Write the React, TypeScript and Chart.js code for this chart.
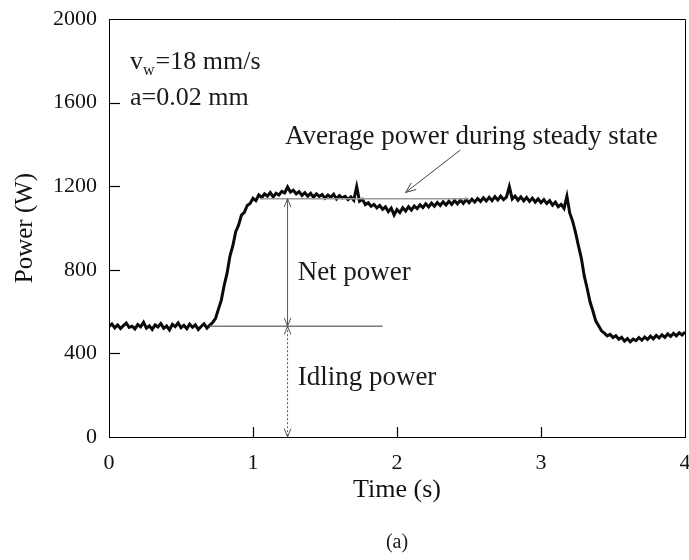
import React, { useEffect, useRef } from "react";
import { Chart, registerables } from "chart.js";

Chart.register(...registerables);

// Sample times (s)
const timeS = [
  0, 0.02, 0.04, 0.06, 0.08, 0.1, 0.12, 0.14, 0.16, 0.18,
  0.2, 0.22, 0.24, 0.26, 0.28, 0.3, 0.32, 0.34, 0.36, 0.38,
  0.4, 0.42, 0.44, 0.46, 0.48, 0.5, 0.52, 0.54, 0.56, 0.58,
  0.6, 0.62, 0.64, 0.66, 0.68, 0.7, 0.72, 0.74, 0.76, 0.78,
  0.8, 0.82, 0.84, 0.86, 0.88, 0.9, 0.92, 0.94, 0.96, 0.98,
  1.0, 1.02, 1.04, 1.06, 1.08, 1.1, 1.12, 1.14, 1.16, 1.18,
  1.2, 1.22, 1.24, 1.26, 1.28, 1.3, 1.32, 1.34, 1.36, 1.38,
  1.4, 1.42, 1.44, 1.46, 1.48, 1.5, 1.52, 1.54, 1.56, 1.58,
  1.6, 1.62, 1.64, 1.66, 1.68, 1.7, 1.72, 1.74, 1.76, 1.78,
  1.8, 1.82, 1.84, 1.86, 1.88, 1.9, 1.92, 1.94, 1.96, 1.98,
  2.0, 2.02, 2.04, 2.06, 2.08, 2.1, 2.12, 2.14, 2.16, 2.18,
  2.2, 2.22, 2.24, 2.26, 2.28, 2.3, 2.32, 2.34, 2.36, 2.38,
  2.4, 2.42, 2.44, 2.46, 2.48, 2.5, 2.52, 2.54, 2.56, 2.58,
  2.6, 2.62, 2.64, 2.66, 2.68, 2.7, 2.72, 2.74, 2.76, 2.78,
  2.8, 2.82, 2.84, 2.86, 2.88, 2.9, 2.92, 2.94, 2.96, 2.98,
  3.0, 3.02, 3.04, 3.06, 3.08, 3.1, 3.12, 3.14, 3.16, 3.18,
  3.2, 3.22, 3.24, 3.26, 3.28, 3.3, 3.32, 3.34, 3.36, 3.38,
  3.4, 3.42, 3.44, 3.46, 3.48, 3.5, 3.52, 3.54, 3.56, 3.58,
  3.6, 3.62, 3.64, 3.66, 3.68, 3.7, 3.72, 3.74, 3.76, 3.78,
  3.8, 3.82, 3.84, 3.86, 3.88, 3.9, 3.92, 3.94, 3.96, 3.98,
  4.0,
];

// Measured power (W)
const powerW = [
  528, 541, 522, 536, 519, 533, 545, 524, 530, 517,
  538, 527, 549, 521, 532, 515, 536, 526, 543, 520,
  531, 512, 539, 528, 546, 523, 534, 518, 540, 525,
  537, 514, 529, 542, 521, 535, 548, 568, 612, 655,
  726, 784, 866, 915, 982, 1014, 1062, 1075, 1108, 1117,
  1142, 1131, 1158, 1146, 1163, 1152, 1170, 1149, 1166, 1158,
  1175, 1168, 1196, 1172, 1181, 1163, 1174, 1156, 1169, 1152,
  1166, 1148, 1163, 1151, 1160, 1143, 1158, 1147, 1162, 1139,
  1155, 1144, 1151, 1136, 1149, 1133, 1198, 1128, 1137, 1112,
  1121, 1104, 1113, 1096, 1108, 1089, 1101, 1078, 1095, 1062,
  1088, 1074, 1097, 1081, 1102, 1086, 1105, 1093, 1111, 1098,
  1116, 1101, 1119, 1104, 1122, 1108, 1125, 1110, 1128, 1113,
  1131, 1115, 1133, 1118, 1136, 1121, 1138, 1124, 1141, 1127,
  1144, 1129, 1147, 1131, 1150, 1134, 1152, 1136, 1148, 1198,
  1139, 1153, 1133, 1149, 1130, 1146, 1127, 1143, 1124, 1139,
  1121, 1136, 1117, 1131, 1110, 1124, 1102, 1113, 1094, 1152,
  1071, 1032, 978, 915, 856, 772, 713, 648, 604, 556,
  532, 508, 497, 484, 491, 476, 485, 468, 477, 459,
  471, 455, 468, 461, 476, 463, 478, 467, 483, 470,
  486, 474, 489, 477, 493, 481, 496, 484, 499, 488,
  502,
];

const yTickValues = [400, 800, 1200, 1600];
const xTickValues = [1, 2, 3];

// Annotation values
const avgPower = 1140;
const avgSpan = [1.05, 2.5];
const idlePower = 530;
const idleSpan = [0.7, 1.9];
const markerTime = 1.24;
const avgArrowFrom = { t: 2.44, p: 1373 };
const avgArrowTo = { t: 2.06, p: 1170 };

const SERIF = "'Liberation Serif', 'Times New Roman', serif";

function arrowHead(ctx: CanvasRenderingContext2D, fx: number, fy: number, tx: number, ty: number, size: number) {
  const ang = Math.atan2(ty - fy, tx - fx);
  const spread = 0.38;
  ctx.beginPath();
  ctx.moveTo(tx - size * Math.cos(ang - spread), ty - size * Math.sin(ang - spread));
  ctx.lineTo(tx, ty);
  ctx.lineTo(tx - size * Math.cos(ang + spread), ty - size * Math.sin(ang + spread));
  ctx.stroke();
}

const annotationPlugin = {
  id: "annotations",
  afterDatasetsDraw(chart: any) {
    const { ctx, chartArea, scales } = chart;
    const x = scales.x;
    const y = scales.y;
    const px = (t: number) => x.getPixelForValue(t);
    const py = (p: number) => y.getPixelForValue(p);
    ctx.save();

    // frame (top and right)
    ctx.strokeStyle = "#000";
    ctx.lineWidth = 1;
    ctx.beginPath();
    ctx.moveTo(chartArea.left, chartArea.top + 0.5);
    ctx.lineTo(chartArea.right + 0.5, chartArea.top + 0.5);
    ctx.lineTo(chartArea.right + 0.5, chartArea.bottom);
    ctx.stroke();

    // inward ticks
    ctx.lineWidth = 1.2;
    yTickValues.forEach((v) => {
      const yy = Math.round(py(v)) + 0.5;
      ctx.beginPath();
      ctx.moveTo(chartArea.left, yy);
      ctx.lineTo(chartArea.left + 11, yy);
      ctx.stroke();
    });
    xTickValues.forEach((v) => {
      const xx = Math.round(px(v)) + 0.5;
      ctx.beginPath();
      ctx.moveTo(xx, chartArea.bottom);
      ctx.lineTo(xx, chartArea.bottom - 10);
      ctx.stroke();
    });

    // average and idle lines
    ctx.strokeStyle = "#9a9a9a";
    ctx.lineWidth = 1.6;
    ctx.beginPath();
    ctx.moveTo(px(avgSpan[0]), py(avgPower));
    ctx.lineTo(px(avgSpan[1]), py(avgPower));
    ctx.stroke();
    ctx.strokeStyle = "#7a7a7a";
    ctx.beginPath();
    ctx.moveTo(px(idleSpan[0]), py(idlePower));
    ctx.lineTo(px(idleSpan[1]), py(idlePower));
    ctx.stroke();

    // vertical double arrows
    const mx = px(markerTime);
    ctx.strokeStyle = "#555";
    ctx.lineWidth = 1;
    ctx.beginPath();
    ctx.moveTo(mx, py(avgPower));
    ctx.lineTo(mx, py(idlePower));
    ctx.stroke();
    arrowHead(ctx, mx, py(idlePower), mx, py(avgPower), 9);
    arrowHead(ctx, mx, py(avgPower), mx, py(idlePower), 9);
    ctx.setLineDash([2, 2]);
    ctx.beginPath();
    ctx.moveTo(mx, py(idlePower));
    ctx.lineTo(mx, py(0));
    ctx.stroke();
    ctx.setLineDash([]);
    arrowHead(ctx, mx, py(0), mx, py(idlePower), 9);
    arrowHead(ctx, mx, py(idlePower), mx, py(0), 9);

    // pointer arrow to average line
    ctx.strokeStyle = "#444";
    ctx.beginPath();
    ctx.moveTo(px(avgArrowFrom.t), py(avgArrowFrom.p));
    ctx.lineTo(px(avgArrowTo.t), py(avgArrowTo.p));
    ctx.stroke();
    arrowHead(ctx, px(avgArrowFrom.t), py(avgArrowFrom.p), px(avgArrowTo.t), py(avgArrowTo.p), 11);

    // texts
    ctx.fillStyle = "#1a1a1a";
    ctx.textAlign = "left";
    ctx.textBaseline = "alphabetic";
    ctx.font = `26px ${SERIF}`;
    const vx = px(0.146);
    const vy = py(1762);
    ctx.fillText("v", vx, vy);
    const vw = ctx.measureText("v").width;
    ctx.font = `16px ${SERIF}`;
    ctx.fillText("w", vx + vw, vy + 6);
    const ww = ctx.measureText("w").width;
    ctx.font = `26px ${SERIF}`;
    ctx.fillText("=18 mm/s", vx + vw + ww + 1, vy);
    ctx.fillText("a=0.02 mm", vx, py(1590));
    ctx.font = `27px ${SERIF}`;
    ctx.fillText("Average power during steady state", px(1.222), py(1400));
    ctx.fillText("Net power", px(1.31), py(752));
    ctx.fillText("Idling power", px(1.31), py(250));

    // caption
    ctx.font = `20px ${SERIF}`;
    ctx.textAlign = "center";
    ctx.textBaseline = "middle";
    ctx.fillText("(a)", (chartArea.left + chartArea.right) / 2, chart.height - 17);
    ctx.restore();
  },
};

export default function App() {
  const ref = useRef<HTMLCanvasElement | null>(null);
  useEffect(() => {
    if (!ref.current) return;
    const chart = new Chart(ref.current, {
      type: "line",
      data: {
        datasets: [
          {
            data: timeS.map((t, i) => ({ x: t, y: powerW[i] })),
            borderColor: "#0a0a0a",
            borderWidth: 3,
            pointRadius: 0,
            tension: 0,
            fill: false,
          },
        ],
      },
      options: {
        responsive: false,
        animation: false,
        layout: { padding: { top: 19, right: 4, left: 0, bottom: 0 } },
        plugins: { legend: { display: false }, tooltip: { enabled: false } },
        scales: {
          x: {
            type: "linear",
            min: 0,
            max: 4,
            ticks: {
              stepSize: 1,
              padding: 13,
              color: "#111",
              font: { family: SERIF, size: 22 },
              maxRotation: 0,
              callback: (v: any) => String(v),
            },
            grid: { display: true, drawOnChartArea: false, drawTicks: false },
            border: { display: true, color: "#000", width: 1 },
            title: {
              display: true,
              text: "Time (s)",
              color: "#111",
              font: { family: SERIF, size: 26 },
              padding: { top: 0, bottom: 54 },
            },
            afterFit: (s: any) => {
              s.height = 123;
              s.paddingLeft = 0;
              s.paddingRight = 0;
            },
          },
          y: {
            min: 0,
            max: 2000,
            ticks: {
              stepSize: 400,
              padding: 12,
              color: "#111",
              font: { family: SERIF, size: 22 },
              callback: (v: any) => String(v),
            },
            grid: { display: true, drawOnChartArea: false, drawTicks: false },
            border: { display: true, color: "#000", width: 1 },
            title: {
              display: true,
              text: "Power (W)",
              color: "#111",
              font: { family: SERIF, size: 25 },
              padding: { top: 10, bottom: 0 },
            },
            afterFit: (s: any) => {
              s.width = 109;
              s.paddingTop = 0;
              s.paddingBottom = 0;
            },
          },
        },
      },
      plugins: [annotationPlugin],
    });
    return () => chart.destroy();
  }, []);
  return (
    <div style={{ position: "fixed", left: 0, top: 0, width: 689, height: 560, background: "#fff" }}>
      <canvas ref={ref} width={689} height={560} />
    </div>
  );
}
